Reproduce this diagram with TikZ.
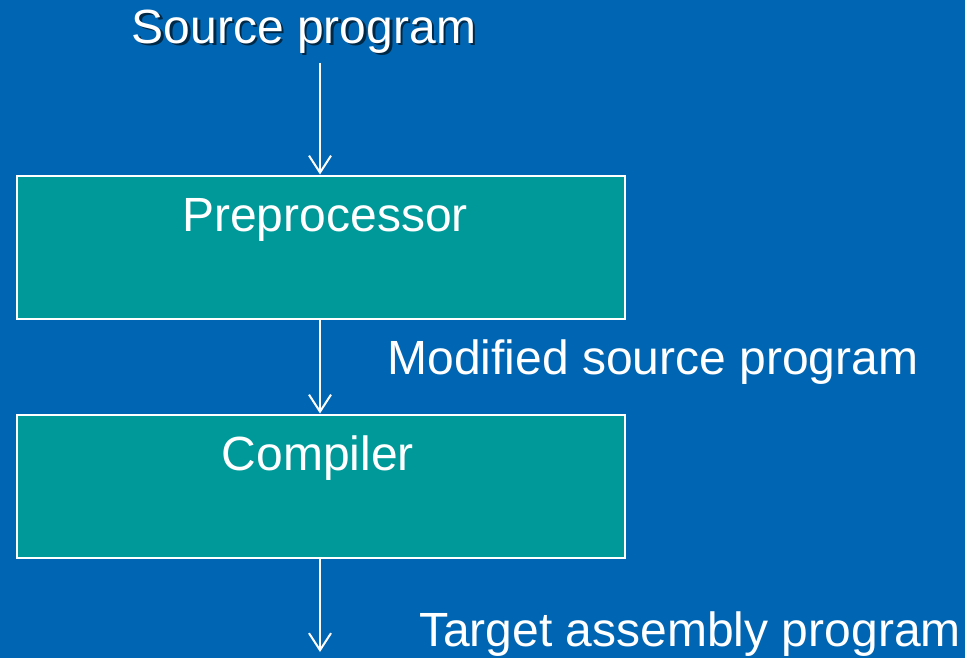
\documentclass[tikz,border=0pt]{standalone}
\usepackage{fontspec}
\setmainfont{Liberation Sans}
\usetikzlibrary{arrows.meta}
\definecolor{bgblue}{HTML}{0066B3}
\definecolor{boxteal}{HTML}{009999}
\tikzset{
  stagebox/.style={draw=white, line width=2pt, fill=boxteal, minimum width=608pt, minimum height=143pt, inner sep=0pt},
  lbl/.style={text=white, anchor=base, inner sep=0pt, font=\fontsize{48}{53}\selectfont},
  shadowlbl/.style={text=black, opacity=0.6, anchor=base, inner sep=0pt, font=\fontsize{48}{53}\selectfont},
  arr/.style={draw=white, line width=2pt, -{Straight Barb[length=17pt,width=22pt,line width=2pt]}}
}
\begin{document}
\begin{tikzpicture}[x=1pt,y=-1pt]
\fill[bgblue] (0,0) rectangle (965,658);
\useasboundingbox (0,0) rectangle (965,658);
\node[shadowlbl] (srcsh) at (306.5,46) {Source program};
\node[lbl] (src) at (304,43.5) {Source program};
\node[stagebox] (pre) at (321,247) {};
\node[stagebox] (comp) at (321,486) {};
\node[lbl] (prelbl) at (325,231) {Preprocessor};
\node[lbl] (complbl) at (318,470) {Compiler};
\node[lbl] (mod) at (653,374) {Modified source program};
\node[lbl] (tgt) at (690,646) {Target assembly program};
\coordinate (s0) at (320,63);
\coordinate (e0) at (320,652);
\draw[arr] (s0) -- (s0 |- pre.north);
\draw[arr] (s0 |- pre.south) -- (s0 |- comp.north);
\draw[arr] (s0 |- comp.south) -- (e0);
\end{tikzpicture}
\end{document}
